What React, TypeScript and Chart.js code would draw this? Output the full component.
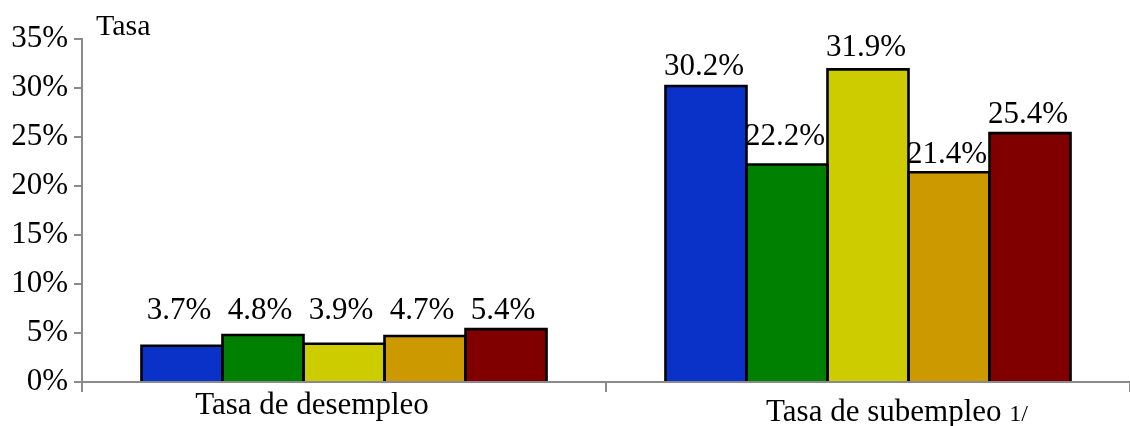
import React, { useEffect, useRef } from "react";
import { Chart, registerables } from "chart.js";

Chart.register(...registerables);

const categories = ["Tasa de desempleo", "Tasa de subempleo"];
const categoryNotes = ["", "1/"];
const seriesNames = ["Serie 1", "Serie 2", "Serie 3", "Serie 4", "Serie 5"];
const serie1 = [3.7, 30.2];
const serie2 = [4.8, 22.2];
const serie3 = [3.9, 31.9];
const serie4 = [4.7, 21.4];
const serie5 = [5.4, 25.4];
const yTicks = [0, 5, 10, 15, 20, 25, 30, 35];
const yTitle = "Tasa";

const seriesValues = [serie1, serie2, serie3, serie4, serie5];
const colors = ["#0a32c8", "#008000", "#cccc00", "#cc9900", "#800000"];
// vertical gap (px) between label baseline and bar top, per series, for 2nd group
const labelGap2 = [11, 19, 13, 9, 10];

const FONT = "'Liberation Serif', 'Times New Roman', serif";
const AXIS = "#8a8a8a";
const FS = 31;

const labelPlugin = {
  id: "labels",
  afterDatasetsDraw(chart: any) {
    const ctx = chart.ctx;
    const n = chart.data.datasets.length;
    ctx.save();
    // bar outlines, centered on edges so neighbours share one line
    ctx.strokeStyle = "#000";
    ctx.lineWidth = 2.6;
    ctx.lineJoin = "miter";
    for (let i = 0; i < n; i++) {
      chart.getDatasetMeta(i).data.forEach((el: any) => {
        const p = el.getProps(["x", "y", "base", "width"], true);
        const left = p.x - p.width / 2;
        ctx.beginPath();
        ctx.moveTo(left, p.base);
        ctx.lineTo(left, p.y);
        ctx.lineTo(left + p.width, p.y);
        ctx.lineTo(left + p.width, p.base);
        ctx.stroke();
      });
    }
    ctx.fillStyle = "#000";
    ctx.textAlign = "center";
    ctx.textBaseline = "alphabetic";
    ctx.font = `${FS}px ${FONT}`;
    // group 0: common height above highest bar
    let minY = Infinity;
    for (let i = 0; i < n; i++) {
      const el = chart.getDatasetMeta(i).data[0];
      minY = Math.min(minY, el.y);
    }
    for (let i = 0; i < n; i++) {
      const el0 = chart.getDatasetMeta(i).data[0];
      const v0 = chart.data.datasets[i].data[0];
      ctx.fillText(v0.toFixed(1) + "%", el0.x - 3, minY - 10);
      const el1 = chart.getDatasetMeta(i).data[1];
      const v1 = chart.data.datasets[i].data[1];
      ctx.fillText(v1.toFixed(1) + "%", el1.x - 2, el1.y - labelGap2[i]);
    }
    // y title
    ctx.textAlign = "left";
    ctx.font = `30px ${FONT}`;
    ctx.fillText(yTitle, chart.chartArea.left + 14, 35);
    // category labels
    const xs = chart.scales.x;
    const offsets = [-32, 29];
    const baselines = [414, 421];
    categories.forEach((c, j) => {
      ctx.font = `${FS}px ${FONT}`;
      const main = categoryNotes[j] ? c + " " : c;
      const w1 = ctx.measureText(main).width;
      ctx.font = `24px ${FONT}`;
      const w2 = categoryNotes[j] ? ctx.measureText(categoryNotes[j]).width : 0;
      const cx = xs.getPixelForValue(j) + offsets[j];
      const start = cx - (w1 + w2) / 2;
      ctx.font = `${FS}px ${FONT}`;
      ctx.fillText(main, start, baselines[j]);
      if (categoryNotes[j]) {
        ctx.font = `24px ${FONT}`;
        ctx.fillText(categoryNotes[j], start + w1, baselines[j]);
      }
    });
    ctx.restore();
  },
};

export default function App() {
  const ref = useRef<HTMLCanvasElement | null>(null);
  useEffect(() => {
    if (!ref.current) return;
    const chart = new Chart(ref.current, {
      type: "bar",
      data: {
        labels: categories,
        datasets: seriesValues.map((vals, i) => ({
          label: seriesNames[i],
          data: vals,
          backgroundColor: colors[i],
          borderWidth: 0,
          categoryPercentage: 0.773,
          barPercentage: 1,
        })),
      },
      options: {
        responsive: false,
        animation: false,
        layout: { padding: { top: 39, right: 0, left: 0, bottom: 0 } },
        plugins: {
          legend: { display: false },
          tooltip: { enabled: false },
          title: { display: false },
        },
        scales: {
          x: {
            grid: {
              display: true,
              offset: true,
              drawOnChartArea: false,
              drawTicks: true,
              tickLength: 10,
              color: AXIS,
              lineWidth: 2,
            },
            border: { display: true, color: AXIS, width: 2 },
            ticks: { display: false },
            afterFit: (s: any) => {
              s.height = 44;
            },
          },
          y: {
            min: 0,
            max: 35,
            afterBuildTicks: (s: any) => {
              s.ticks = yTicks.map((v) => ({ value: v }));
            },
            grid: {
              display: true,
              drawOnChartArea: false,
              drawTicks: true,
              tickLength: 8,
              color: AXIS,
              lineWidth: 2,
            },
            border: { display: true, color: AXIS, width: 2 },
            ticks: {
              padding: 6,
              color: "#000",
              font: { family: FONT, size: FS },
              callback: (v: any) => v + "%",
            },
            afterFit: (s: any) => {
              s.width = 82;
            },
          },
        },
      },
      plugins: [labelPlugin],
    });
    return () => chart.destroy();
  }, []);
  return (
    <div style={{ position: "fixed", left: 0, top: 0, width: 1130, height: 426, background: "#fff" }}>
      <canvas ref={ref} width={1130} height={426} />
    </div>
  );
}
